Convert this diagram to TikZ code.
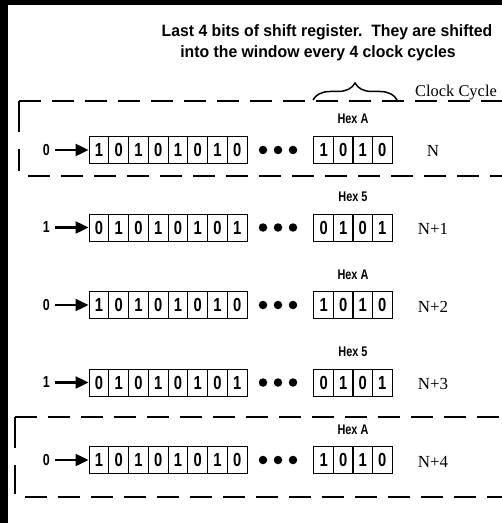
\documentclass[tikz,border=0pt]{standalone}
\usepackage{fontspec}
\setmainfont{Liberation Serif}
\newfontfamily\narrowsf[FakeStretch=0.78]{Liberation Sans}
\newfontfamily\titlesf[FakeStretch=0.96]{Liberation Sans}
\usetikzlibrary{arrows.meta,positioning,decorations.pathreplacing}

\begin{document}
\begin{tikzpicture}[x=1bp,y=-1bp,
bit/.style={draw,line width=0.9bp,minimum width=19.75bp,minimum height=27bp,inner sep=0pt,font=\narrowsf\bfseries\fontsize{19}{19}\selectfont},
inbit/.style={inner sep=5bp,font=\narrowsf\bfseries\fontsize{16}{16}\selectfont},
hexlab/.style={inner sep=0pt,anchor=base,font=\narrowsf\bfseries\fontsize{14}{14}\selectfont},
cyc/.style={inner sep=0pt,anchor=base,font=\fontsize{17}{17}\selectfont},
title/.style={inner sep=0pt,anchor=base,font=\titlesf\bfseries\fontsize{16.5}{20}\selectfont},
dot/.style={circle,fill,inner sep=0pt,minimum size=8.5bp},
arr/.style={-{Triangle[length=13bp,width=12bp]},line width=2.2bp},
win/.style={line width=2.6bp,dash pattern=on 22bp off 11bp},
winv/.style={line width=2.6bp,dash pattern=on 31bp off 17bp},
brc/.style={decorate,decoration={brace,amplitude=17bp},line width=1.5bp}]
\useasboundingbox (0,0) rectangle (502,523);
\clip (0,0) rectangle (502,523);
% dark scan edges
\fill (0,0) rectangle (7.5,523);
\fill (0,0) rectangle (502,5);
% caption
\node[title] (t1) at (327,37) {Last 4 bits of shift register.\ \ They are shifted};
\node[title] (t2) at (318,58) {into the window every 4 clock cycles};
\coordinate (bl) at (313,100);
\coordinate (br) at (397,100);
\draw[brc] (bl) -- (br);
\node[cyc,font=\fontsize{16.5}{17}\selectfont] (cc) at (456,97) {Clock Cycle};
% windows
\coordinate (ka) at (19,101);
\draw[win] (ka) -- (502,101);
\draw[winv] (ka) -- (19,171);
\draw[win] (28,176) -- (502,176);
\coordinate (kb) at (15,417);
\draw[win] (kb) -- (502,417);
\draw[winv] (kb) -- (15,494);
\draw[win] (25,497) -- (502,497);
% rows
\foreach \y/\inp/\bits/\wbits/\hex/\cyc [count=\i] in {
  150/0/{1,0,1,0,1,0,1,0}/{1,0,1,0}/A/N,
  227.5/1/{0,1,0,1,0,1,0,1}/{0,1,0,1}/5/N+1,
  305/0/{1,0,1,0,1,0,1,0}/{1,0,1,0}/A/N+2,
  382.5/1/{0,1,0,1,0,1,0,1}/{0,1,0,1}/5/N+3,
  460/0/{1,0,1,0,1,0,1,0}/{1,0,1,0}/A/N+4}{
  \foreach \b [count=\j] in \bits
    \node[bit] (r\i-\j) at ({79.125+19.75*\j},\y) {\b};
  \foreach \b [count=\j] in \wbits
    \node[bit] (w\i-\j) at ({304.25+19.5*\j},\y) {\b};
  \foreach \x [count=\k] in {263,278,293}
    \node[dot] (d\i-\k) at (\x,\y) {};
  \node[inbit,left=33.5bp of r\i-1] (in\i) {\inp};
  \draw[arr] (in\i) -- (r\i-1);
  \node[hexlab] (hx\i) at (353,\y-26) {Hex \hex};
  \node[cyc] (cy\i) at (433,\y+7) {\cyc};
}
\end{tikzpicture}
\end{document}
